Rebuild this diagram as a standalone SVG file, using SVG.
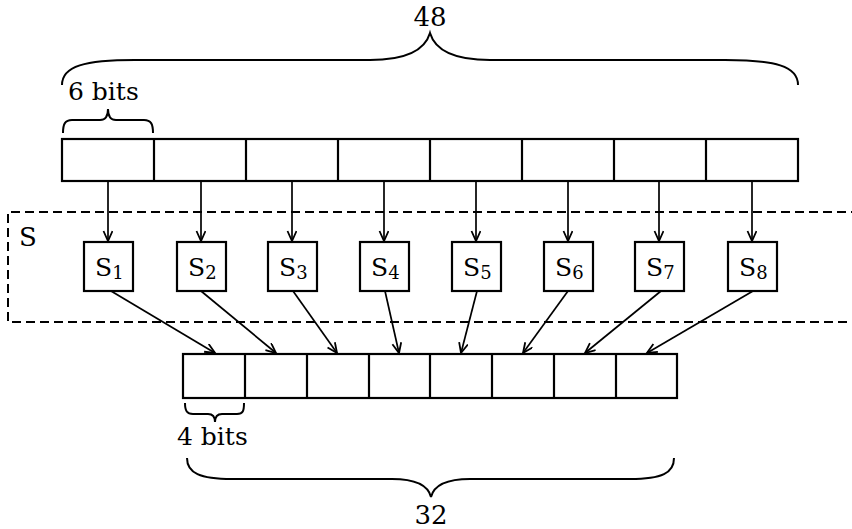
<svg xmlns="http://www.w3.org/2000/svg" width="852" height="529" viewBox="0 0 852 529">
<style>
.t{font-family:"DejaVu Serif","Liberation Serif",serif;fill:#000}
.big{font-size:26px}
.lbl{font-size:25px}
.s{font-size:25px}
.sub{font-size:18px}
.box{fill:#fff;stroke:#000;stroke-width:2.2}
.cell{fill:none;stroke:#000;stroke-width:2.2}
.brace{fill:none;stroke:#000;stroke-width:2}
.conn{fill:none;stroke:#000;stroke-width:1.7;marker-end:url(#ah)}
.dash{fill:none;stroke:#000;stroke-width:2;stroke-dasharray:9,5}
</style>
<defs>
<marker id="ah" markerUnits="userSpaceOnUse" markerWidth="14" markerHeight="12" refX="11" refY="5" orient="auto">
<path d="M1,0.5 L11,5 L1,9.5" fill="none" stroke="#000" stroke-width="1.8"/>
</marker>
</defs>
<rect width="852" height="529" fill="#fff"/>

<g id="brace48">
<path class="brace" d="M62,85 C62,66 85,60 135,60 L 370,60 C 407,60 425,50 430,33 C 435,50 453,60 490,60 L 725,60 C 775,60 798,66 798,85"/>
<text class="t big" x="430" y="26" text-anchor="middle">48</text>
</g>

<g id="brace6">
<path class="brace" d="M63,133 C63,124 65,120 72,120 L 100,120 C 105,120 108,116 108,109 C 108,116 111,120 116,120 L 144,120 C 151,120 153,124 153,133"/>
<text class="t lbl" x="68" y="100">6 bits</text>
</g>

<g id="input48">
<rect class="cell" x="62" y="139" width="736" height="42"/>
<path class="cell" d="M154,139V181M246,139V181M338,139V181M430,139V181M522,139V181M614,139V181M706,139V181"/>
</g>

<g id="sregion">
<path class="dash" d="M860,212 H8 V322 H860"/>
<text class="t big" x="19" y="246">S</text>
</g>

<g id="S1"><rect class="box" x="84" y="242" width="49" height="49"/><text class="t s" x="95" y="276">S<tspan class="sub" dy="3">1</tspan></text></g>
<g id="S2"><rect class="box" x="177" y="242" width="49" height="49"/><text class="t s" x="188" y="276">S<tspan class="sub" dy="3">2</tspan></text></g>
<g id="S3"><rect class="box" x="268" y="242" width="49" height="49"/><text class="t s" x="279" y="276">S<tspan class="sub" dy="3">3</tspan></text></g>
<g id="S4"><rect class="box" x="360" y="242" width="49" height="49"/><text class="t s" x="371" y="276">S<tspan class="sub" dy="3">4</tspan></text></g>
<g id="S5"><rect class="box" x="452" y="242" width="49" height="49"/><text class="t s" x="463" y="276">S<tspan class="sub" dy="3">5</tspan></text></g>
<g id="S6"><rect class="box" x="544" y="242" width="49" height="49"/><text class="t s" x="555" y="276">S<tspan class="sub" dy="3">6</tspan></text></g>
<g id="S7"><rect class="box" x="635" y="242" width="49" height="49"/><text class="t s" x="646" y="276">S<tspan class="sub" dy="3">7</tspan></text></g>
<g id="S8"><rect class="box" x="728" y="242" width="49" height="49"/><text class="t s" x="739" y="276">S<tspan class="sub" dy="3">8</tspan></text></g>

<g id="output32">
<rect class="cell" x="183" y="354" width="494" height="44"/>
<path class="cell" d="M245,354V398M307,354V398M369,354V398M430,354V398M492,354V398M554,354V398M616,354V398"/>
</g>

<g id="brace4">
<path class="brace" d="M185,403 C185,411 187,414 193,414 L 208,414 C 213,414 215,417 215,422 C 215,417 217,414 222,414 L 237,414 C 243,414 244,411 244,403"/>
<text class="t lbl" x="177" y="445">4 bits</text>
</g>

<g id="brace32">
<path class="brace" d="M187,458 C187,473 200,479 232,479 L 392,479 C 416,479 428,485 431,497 C 434,485 446,479 470,479 L 630,479 C 662,479 674,473 674,458"/>
<text class="t big" x="431" y="524" text-anchor="middle">32</text>
</g>

<g id="connectors">
<path class="conn" d="M108,181V241"/>
<path class="conn" d="M201,181V241"/>
<path class="conn" d="M292,181V241"/>
<path class="conn" d="M384,181V241"/>
<path class="conn" d="M476,181V241"/>
<path class="conn" d="M568,181V241"/>
<path class="conn" d="M659,181V241"/>
<path class="conn" d="M752,181V241"/>
<path class="conn" d="M111,291L215,353"/>
<path class="conn" d="M201,291L276,353"/>
<path class="conn" d="M293,291L337,353"/>
<path class="conn" d="M385,291L399,353"/>
<path class="conn" d="M477,291L461,353"/>
<path class="conn" d="M568,291L523,353"/>
<path class="conn" d="M661,291L585,353"/>
<path class="conn" d="M753,291L647,353"/>
</g>
</svg>
